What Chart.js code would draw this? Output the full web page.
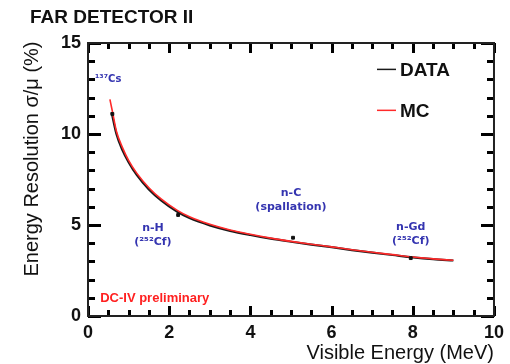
<!DOCTYPE html>
<html><head><meta charset="utf-8">
<script src="https://cdn.jsdelivr.net/npm/chart.js@4/dist/chart.umd.min.js"></script>
<style>html,body{margin:0;padding:0;background:#fff}#wrap{width:510px;height:364px}</style>
</head><body><div id="wrap"><canvas id="c" width="510" height="364"></canvas></div>
<script>
// Curve readings (Visible Energy MeV, resolution %)
const dataCurveE = [0.58,0.7,0.85,1.0,1.2,1.5,1.8,2.2,2.5,3.0,3.5,4.0,4.5,5.0,5.5,6.0,6.5,7.0,7.5,8.0,8.5,9.0];
const dataCurveR = [11.2,10.0,9.1,8.45,7.75,6.95,6.35,5.72,5.38,4.98,4.68,4.45,4.25,4.08,3.92,3.78,3.62,3.48,3.35,3.22,3.12,3.05];
const mcCurveE = [0.54,0.6,0.7,0.85,1.0,1.2,1.5,1.8,2.2,2.5,3.0,3.5,4.0,4.5,5.0,5.5,6.0,6.5,7.0,7.5,8.0,8.5,9.0];
const mcCurveR = [11.9,11.25,10.15,9.25,8.55,7.85,7.05,6.43,5.8,5.45,5.04,4.73,4.49,4.28,4.1,3.94,3.8,3.64,3.5,3.37,3.24,3.14,3.06];
// Calibration source points
const pointE = [0.6,2.22,5.05,7.95];
const pointR = [11.1,5.55,4.3,3.18];
const pointLabels = [["\u00b9\u00b3\u2077Cs"],["n-H","(\u00b2\u2075\u00b2Cf)"],["n-C","(spallation)"],["n-Gd","(\u00b2\u2075\u00b2Cf)"]];
const xTicks = [0,2,4,6,8,10];
const yTicks = [0,5,10,15];
const xMinorStep = 0.5;
const yMinorStep = 1;

const toXY = (xs, ys) => xs.map((x,i)=>({x, y: ys[i]}));
const BLUE = '#3434b0';

const tickPlugin = {
  id: 'innerTicks',
  afterDatasetsDraw(chart) {
    const ctx = chart.ctx, a = chart.chartArea, x = chart.scales.x, y = chart.scales.y;
    ctx.save();
    ctx.fillStyle = '#000000';
    for (let k = 0; k <= 20; k++) {
      const v = k * xMinorStep;
      const px = Math.round(x.getPixelForValue(v));
      const L = (k % 4 === 0) ? 10 : 6;
      ctx.fillRect(px - 1, Math.round(a.bottom) - L, 3, L);
      ctx.fillRect(px - 1, Math.round(a.top), 3, L);
    }
    for (let k = 0; k <= 15; k++) {
      const py = Math.round(y.getPixelForValue(k * yMinorStep));
      const L = (k % 5 === 0) ? 13 : 7;
      ctx.fillRect(Math.round(a.left), py - 1, L, 3);
      ctx.fillRect(Math.round(a.right) - L, py - 1, L, 3);
    }
    ctx.restore();
  }
};

const deco = {
  id: 'deco',
  afterDraw(chart) {
    const ctx = chart.ctx, a = chart.chartArea, x = chart.scales.x, y = chart.scales.y;
    ctx.save();
    ctx.fillStyle = '#222222';
    ctx.fillRect(a.left - 1, a.top - 1, a.right - a.left + 2, 2);
    ctx.fillRect(a.left - 1, a.bottom - 1, a.right - a.left + 2, 2);
    ctx.fillRect(a.left - 1, a.top - 1, 2, a.bottom - a.top + 2);
    ctx.fillRect(a.right - 1, a.top - 1, 2, a.bottom - a.top + 2);

    ctx.fillStyle = BLUE;
    ctx.textBaseline = 'middle';
    ctx.font = 'bold 10px "DejaVu Sans"';
    ctx.textAlign = 'left';
    ctx.fillText(pointLabels[0][0], x.getPixelForValue(0.17), y.getPixelForValue(13.0));
    ctx.font = 'bold 11px "DejaVu Sans"';
    ctx.textAlign = 'center';
    const pos = [null,[1.6,4.8],[5.0,6.75],[7.95,4.9]];
    for (let i = 1; i < 4; i++) {
      const cx = x.getPixelForValue(pos[i][0]);
      const cy = y.getPixelForValue(pos[i][1]);
      ctx.fillText(pointLabels[i][0], cx, cy);
      ctx.fillText(pointLabels[i][1], cx, cy + 14);
    }
    ctx.fillStyle = '#ff2020';
    ctx.textAlign = 'left';
    ctx.font = 'bold 13px "Liberation Sans"';
    ctx.fillText('DC-IV preliminary', x.getPixelForValue(0.3), y.getPixelForValue(0.95));

    const items = [[chart.data.datasets[0], y.getPixelForValue(13.55)], [chart.data.datasets[1], y.getPixelForValue(11.3)]];
    ctx.font = 'bold 19px "Liberation Sans"';
    ctx.textAlign = 'left';
    for (const [ds, py] of items) {
      ctx.strokeStyle = ds.borderColor; ctx.lineWidth = 1.5;
      ctx.beginPath(); ctx.moveTo(377, py); ctx.lineTo(396, py); ctx.stroke();
      ctx.fillStyle = '#111';
      ctx.fillText(ds.label, 400, py + 1);
    }

    ctx.fillStyle = '#111';
    ctx.font = 'bold 19px "Liberation Sans"';
    ctx.textAlign = 'left';
    ctx.fillText('FAR DETECTOR II', 30, 18);
    ctx.font = '20px "Liberation Sans"';
    ctx.textAlign = 'right';
    ctx.fillText('Visible Energy (MeV)', a.right, 353);
    ctx.save();
    ctx.translate(32, 159);
    ctx.rotate(-Math.PI/2);
    ctx.textAlign = 'center';
    ctx.fillText('Energy Resolution \u03c3/\u03bc (%)', 0, 0);
    ctx.restore();
    ctx.restore();
  }
};

new Chart(document.getElementById('c'), {
  type: 'scatter',
  data: {
    datasets: [
      { label: 'DATA', data: toXY(dataCurveE, dataCurveR), showLine: true, borderColor: '#1a1a1a', borderWidth: 2.2, pointRadius: 0, tension: 0.4, cubicInterpolationMode: 'monotone', order: 2 },
      { label: 'MC', data: toXY(mcCurveE, mcCurveR), showLine: true, borderColor: '#ff2a2a', borderWidth: 1.6, pointRadius: 0, tension: 0.4, cubicInterpolationMode: 'monotone', order: 1 },
      { label: 'points', data: toXY(pointE, pointR), showLine: false, pointStyle: 'rect', pointRadius: 2, backgroundColor: '#111', borderColor: '#111', borderWidth: 1, order: 0 }
    ]
  },
  options: {
    responsive: false, animation: false, devicePixelRatio: 1,
    layout: { padding: { top: 43, right: 15, left: 0, bottom: 0 } },
    plugins: { legend: { display: false }, tooltip: { enabled: false } },
    scales: {
      x: { type: 'linear', min: 0, max: 10,
        afterFit: s => { s.height = 48; },
        afterBuildTicks: s => { s.ticks = xTicks.map(v => ({value: v})); },
        grid: { display: false, drawTicks: false }, border: { display: false },
        ticks: { padding: 6, color: '#111', font: { family: 'Liberation Sans', size: 18, weight: 'bold' }, maxRotation: 0 } },
      y: { type: 'linear', min: 0, max: 15,
        afterFit: s => { s.width = 88; },
        afterBuildTicks: s => { s.ticks = yTicks.map(v => ({value: v})); },
        grid: { display: false, drawTicks: false }, border: { display: false },
        ticks: { padding: 7, color: '#111', font: { family: 'Liberation Sans', size: 18, weight: 'bold' } } }
    }
  },
  plugins: [tickPlugin, deco]
});
</script></body></html>
